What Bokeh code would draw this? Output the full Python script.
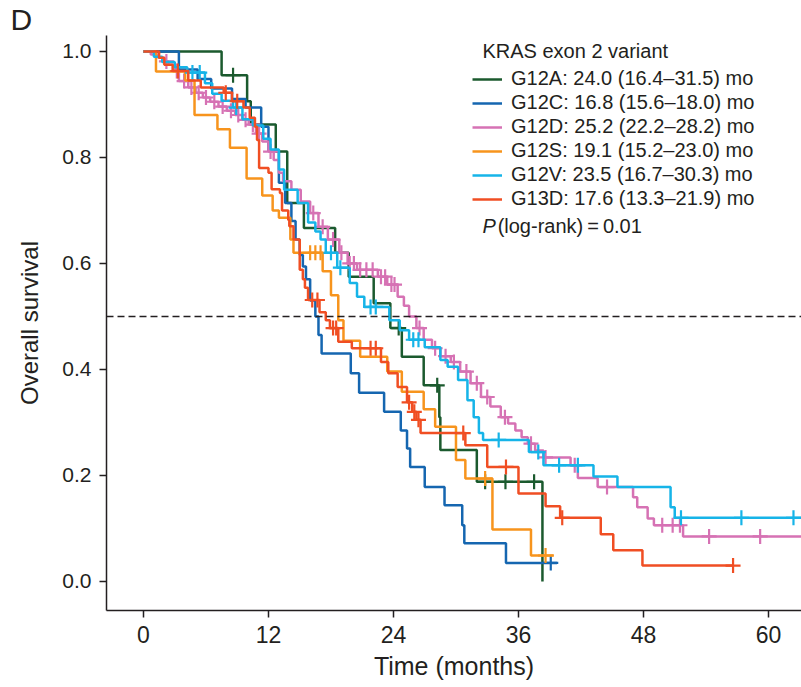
import numpy as np
from bokeh.plotting import figure
from bokeh.models import Range1d, Span, Label, Legend, LegendItem, FixedTicker
from bokeh.embed import file_html
from bokeh.resources import INLINE

# ---------------- data ----------------
groups = ["G12A", "G12C", "G12D", "G12S", "G12V", "G13D"]
labels = ["G12A: 24.0 (16.4\u201331.5) mo", "G12C: 16.8 (15.6\u201318.0) mo",
          "G12D: 25.2 (22.2\u201328.2) mo", "G12S: 19.1 (15.2\u201323.0) mo",
          "G12V: 23.5 (16.7\u201330.3) mo", "G13D: 17.6 (13.3\u201321.9) mo"]
colors = ["#1b5a2e", "#1566b0", "#d672b4", "#f7941d", "#16b4e8", "#f04e23"]

A_t = [0, 7.5, 9.95, 10.3, 12.7, 13.8, 15.4, 18.4, 19.7, 22.1, 23.7, 24.8, 26.9, 28.4, 28.5, 32.0, 38.3]
A_s = [1.0, 0.955, 0.906, 0.862, 0.811, 0.714, 0.667, 0.62, 0.575, 0.525, 0.478, 0.424, 0.37, 0.31, 0.248, 0.188, 0.0]
A_end = 38.3
A_cens = [8.6, 24.5, 28.2, 32.8, 34.75, 37.5]

C_t = [0, 3.4, 5.2, 6.5, 8.5, 9.8, 11.3, 12.0, 13.0, 13.6, 14.2, 14.6, 15.0, 15.3, 15.6,
       16.0, 16.5, 16.8, 17.1, 19.9, 20.7, 23.1, 24.7, 25.3, 25.6, 27.0, 28.9, 30.6, 30.8, 34.8]
C_s = [1.0, 0.966, 0.948, 0.93, 0.91, 0.894, 0.858, 0.812, 0.752, 0.714, 0.68, 0.645, 0.616, 0.594, 0.57,
       0.53, 0.50, 0.465, 0.43, 0.393, 0.356, 0.32, 0.285, 0.251, 0.216, 0.178, 0.144, 0.106, 0.072, 0.035]
C_end = 39.7
C_cens = [39.1]

D_t = [0, 0.7, 1.4, 2.0, 2.4, 3.0, 3.4, 4.3, 5.0, 5.7,
       6.4, 7.2, 8.0, 8.8, 9.5, 10.1, 10.8, 11.4, 12.0, 12.5,
       13.0, 13.4, 14.2, 15.1, 16.0, 16.8, 17.7, 18.8, 19.6, 20.5,
       22.5, 23.4, 24.4, 25.0, 25.5, 26.2, 26.9, 27.7, 28.5, 29.5,
       30.4, 31.4, 32.4, 33.3, 34.3, 35.0, 35.7, 36.3, 36.9, 37.6,
       38.4, 41.0, 41.7, 43.6, 47.0, 47.4, 48.4, 49.0, 51.8]
D_s = [1.0, 0.994, 0.988, 0.981, 0.975, 0.963, 0.944, 0.932, 0.922, 0.913,
       0.905, 0.896, 0.888, 0.88, 0.871, 0.862, 0.845, 0.83, 0.811, 0.795,
       0.771, 0.755, 0.739, 0.717, 0.695, 0.669, 0.645, 0.62, 0.60, 0.588,
       0.575, 0.56, 0.537, 0.52, 0.50, 0.478, 0.456, 0.44, 0.425, 0.414,
       0.396, 0.374, 0.348, 0.33, 0.31, 0.298, 0.285, 0.272, 0.26, 0.247,
       0.234, 0.219, 0.195, 0.178, 0.159, 0.14, 0.119, 0.106, 0.085]
D_end = 64.0
D_cens = [2.2, 3.2, 3.9, 4.6, 5.3, 6.0, 6.8, 7.6, 8.4, 9.1, 9.8, 10.5, 11.1, 12.2, 16.3, 17.2,
          18.2, 19.0, 19.8, 20.2, 20.8, 21.4, 22.0, 22.8, 23.2, 23.8, 24.1, 26.5, 28.0, 29.0,
          29.8, 31.0, 32.0, 33.0, 34.7, 37.2, 38.6, 41.4, 44.5, 49.8, 50.8, 51.5, 54.3, 59.2]

S_t = [0, 1.2, 4.0, 4.9, 7.1, 8.3, 9.9, 11.4, 12.4, 13.0, 14.1, 14.4, 17.2, 18.0, 18.7,
       19.2, 20.8, 23.4, 24.8, 26.9, 28.0, 30.0, 30.9, 33.5, 37.2]
S_s = [1.0, 0.962, 0.945, 0.88, 0.853, 0.818, 0.76, 0.728, 0.70, 0.686, 0.645, 0.62, 0.585, 0.54, 0.493,
       0.454, 0.424, 0.396, 0.358, 0.325, 0.292, 0.229, 0.194, 0.098, 0.049]
S_end = 39.4
S_cens = [16.0, 16.5, 17.0, 32.8, 38.6]

V_t = [0, 1.0, 1.8, 3.0, 4.2, 5.9, 6.6, 7.5, 8.6, 9.5,
       10.5, 11.5, 12.2, 13.0, 13.5, 14.8, 15.8, 16.5, 17.0, 17.5,
       18.6, 19.8, 20.5, 21.2, 23.6, 24.6, 25.5, 27.0, 28.5, 29.2, 30.2,
       31.1, 31.7, 32.2, 32.6, 37.0, 38.4, 43.2, 45.5, 50.6, 51.0]
V_s = [1.0, 0.99, 0.98, 0.97, 0.96, 0.94, 0.92, 0.907, 0.894, 0.872,
       0.86, 0.835, 0.815, 0.777, 0.739, 0.714, 0.677, 0.66, 0.645, 0.62,
       0.592, 0.563, 0.537, 0.518, 0.493, 0.474, 0.456, 0.442, 0.418, 0.405, 0.38,
       0.342, 0.31, 0.28, 0.267, 0.244, 0.219, 0.198, 0.178, 0.14, 0.12]
V_end = 64.0
V_cens = [4.7, 5.4, 8.9, 18.0, 18.9, 21.8, 22.3, 25.9, 26.4, 34.1, 37.9, 39.9, 41.7, 51.6, 57.4, 62.4]

R_t = [0, 1.5, 2.0, 2.8, 4.3, 5.5, 7.7, 8.5, 9.6, 10.2,
       10.7, 10.9, 11.1, 12.0, 12.3, 13.1, 13.3, 13.9, 14.0, 14.4,
       15.0, 15.3, 15.5, 15.8, 16.9, 17.5, 17.9, 18.7, 20.0, 22.8,
       23.5, 24.4, 25.3, 25.8, 26.2, 26.6, 30.9, 33.0, 36.0, 38.6,
       40.0, 43.9, 45.1, 47.9]
R_s = [1.0, 0.988, 0.975, 0.963, 0.945, 0.932, 0.922, 0.906, 0.894, 0.875,
       0.858, 0.833, 0.78, 0.771, 0.74, 0.733, 0.70, 0.682, 0.67, 0.645,
       0.588, 0.57, 0.554, 0.531, 0.508, 0.493, 0.478, 0.452, 0.44, 0.414,
       0.393, 0.367, 0.338, 0.32, 0.305, 0.28, 0.257, 0.216, 0.166, 0.142,
       0.12, 0.089, 0.059, 0.03]
R_end = 56.6
R_cens = [3.3, 7.9, 9.0, 16.2, 16.7, 18.2, 18.5, 21.8, 22.3, 25.5, 26.0, 26.4, 30.7, 34.8, 40.2, 56.6]

series = [(A_t, A_s, A_end, A_cens), (C_t, C_s, C_end, C_cens), (D_t, D_s, D_end, D_cens),
          (S_t, S_s, S_end, S_cens), (V_t, V_s, V_end, V_cens), (R_t, R_s, R_end, R_cens)]

x_ticks = [0, 12, 24, 36, 48, 60]
y_ticks = [0.0, 0.2, 0.4, 0.6, 0.8, 1.0]
y_tick_labels = ["0.0", "0.2", "0.4", "0.6", "0.8", "1.0"]
median_level = 0.5

# ---------------- figure ----------------
TXT = "#231f20"
FONT = "Liberation Sans"

p = figure(width=801, height=687, output_backend="svg", toolbar_location=None,
           x_range=Range1d(-3.55, 63.17), y_range=Range1d(-0.0548, 1.030),
           min_border_left=106, min_border_right=0, min_border_top=0, min_border_bottom=77,
           title="D")
p.title.text_font = FONT
p.title.text_font_size = "30px"
p.title.text_font_style = "normal"
p.title.text_color = TXT
p.title.align = "left"
p.title.offset = -96
p.title.standoff = 0
p.outline_line_color = None
p.grid.visible = False
p.background_fill_color = "white"

for ax in (p.xaxis[0], p.yaxis[0]):
    ax.axis_line_width = 1.5
    ax.axis_line_color = TXT
    ax.major_tick_line_width = 1.5
    ax.major_tick_line_color = TXT
    ax.major_tick_out = 7
    ax.major_tick_in = 0
    ax.minor_tick_out = 0
    ax.minor_tick_in = 0
    ax.major_label_text_color = TXT
    ax.axis_label_text_color = TXT
    ax.major_label_text_font = FONT
    ax.axis_label_text_font = FONT
    ax.axis_label_text_font_style = "normal"

p.xaxis.ticker = FixedTicker(ticks=x_ticks)
p.yaxis.ticker = FixedTicker(ticks=y_ticks)
p.yaxis.major_label_overrides = {v: l for v, l in zip(y_ticks, y_tick_labels)}
p.xaxis.major_label_text_font_size = "23px"
p.yaxis.major_label_text_font_size = "21px"
p.xaxis.axis_label = "Time (months)"
p.yaxis.axis_label = "Overall survival"
p.xaxis.axis_label_text_font_size = "25px"
p.yaxis.axis_label_text_font_size = "24px"
p.xaxis.major_label_standoff = 8
p.yaxis.major_label_standoff = 8
p.xaxis.axis_label_standoff = 6
p.yaxis.axis_label_standoff = 16

p.add_layout(Span(location=median_level, dimension="width", line_color=TXT,
                  line_dash="7 4", line_width=1.5))

items = []
for (ts, ss, end, cens), col, lab in zip(series, colors, labels):
    xs = list(ts) + [end]
    ys = list(ss) + [ss[-1]]
    r = p.step(xs, ys, mode="after", line_color=col, line_width=2.5)
    ta = np.array(ts)
    sa = np.array(ss)
    idx = np.searchsorted(ta, np.array(cens), side="right") - 1
    p.scatter(cens, sa[idx], marker="cross", size=15, line_width=2.2, line_color=col)
    items.append(LegendItem(label=lab, renderers=[r]))

legend = Legend(items=items, location=(366, 400))
legend.border_line_color = None
legend.background_fill_alpha = 0
legend.padding = 0
legend.margin = 0
legend.spacing = 1
legend.glyph_width = 30
legend.glyph_height = 22
legend.label_height = 22
legend.label_standoff = 9
legend.label_text_font = FONT
legend.label_text_font_size = "20px"
legend.label_text_color = TXT
p.add_layout(legend)

p.add_layout(Label(x=32.54, y=1.0, text="KRAS exon 2 variant", text_font=FONT,
                   text_font_size="20px", text_color=TXT, text_baseline="middle"))
p.add_layout(Label(x=32.54, y=0.6697, text="P", text_font=FONT, text_font_style="italic",
                   text_font_size="20px", text_color=TXT, text_baseline="middle"))
p.add_layout(Label(x=34.0, y=0.6697, text="(log-rank)\u2009=\u20090.01", text_font=FONT,
                   text_font_size="20px", text_color=TXT, text_baseline="middle"))

open("out.html", "w").write(file_html(p, INLINE))
